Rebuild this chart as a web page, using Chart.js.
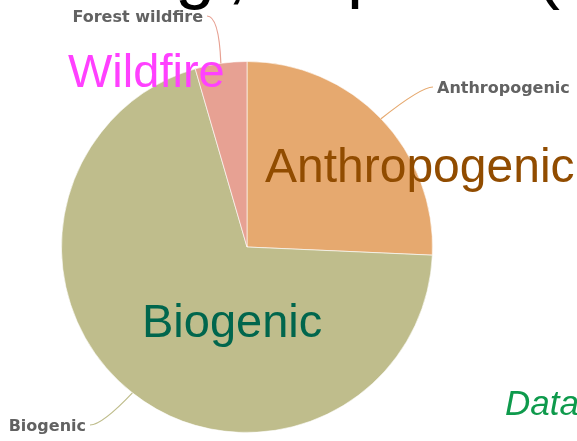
<!DOCTYPE html>
<html>
<head>
<meta charset="utf-8">
<script src="https://cdn.jsdelivr.net/npm/chart.js@4/dist/chart.umd.min.js"></script>
<style>
  html, body { margin: 0; padding: 0; background: #fff; }
  #wrap { width: 577px; height: 441px; position: relative; overflow: hidden; }
</style>
</head>
<body>
<div id="wrap"><canvas id="pie" width="577" height="441"></canvas></div>
<script>
// slice data, clockwise from 12 o'clock
const sources = ['Anthropogenic', 'Biogenic', 'Forest wildfire'];
const shares = [25.7, 69.8, 4.5];
const sliceColors = ['#E6A96F', '#BFBD8C', '#E7A193'];

// outside label placement (left/right edge of text, baseline)
const labelSpots = [
    { x: 437, y: 93, align: 'left' },
    { x: 86, y: 431, align: 'right' },
    { x: 203, y: 22, align: 'right' }
];

// big slide annotations laid over the chart
const overlays = [
    { text: 'Wildfire', x: 68, y: 87, font: '47px "Liberation Sans", Arial', color: '#FF40FF' },
    { text: 'Anthropogenic', x: 265, y: 182, font: '48px "Liberation Sans", Arial', color: '#914C00' },
    { text: 'Biogenic', x: 142, y: 337, font: '47px "Liberation Sans", Arial', color: '#00664D' },
    { text: 'Data', x: 505, y: 415, font: 'italic 35px "Liberation Sans", Arial', color: '#0E9A4C' },
    // cut-off slide title at the very top
    { text: 'g', x: 175, y: -5, font: '72px "Liberation Sans", Arial', color: '#000' },
    { text: ',', x: 227, y: -5, font: '72px "Liberation Sans", Arial', color: '#000' },
    { text: 'p', x: 347, y: -6, font: '72px "Liberation Sans", Arial', color: '#000' },
    { text: '(', x: 536, y: -5, font: '72px "Liberation Sans", Arial', color: '#000' }
];

const sideLabels = {
    id: 'sideLabels',
    afterDatasetsDraw(chart) {
        const ctx = chart.ctx;
        const arcs = chart.getDatasetMeta(0).data;
        ctx.save();
        arcs.forEach((arc, i) => {
            const p = arc.getProps(['x', 'y', 'startAngle', 'endAngle', 'outerRadius'], true);
            const mid = (p.startAngle + p.endAngle) / 2;
            const ax = p.x + Math.cos(mid) * p.outerRadius;
            const ay = p.y + Math.sin(mid) * p.outerRadius;
            const spot = labelSpots[i];
            const sx = spot.align === 'left' ? spot.x - 4 : spot.x + 4;
            const sy = spot.y - 6;
            const side = ax > sx ? 1 : -1;

            ctx.strokeStyle = sliceColors[i];
            ctx.lineWidth = 1.2;
            ctx.beginPath();
            ctx.moveTo(sx, sy);
            ctx.quadraticCurveTo(sx + side * 12, sy, ax, ay);
            ctx.stroke();

            ctx.fillStyle = '#626262';
            ctx.font = 'bold 16px "DejaVu Sans"';
            ctx.textAlign = spot.align;
            ctx.textBaseline = 'alphabetic';
            ctx.fillText(sources[i], spot.x, spot.y);
        });
        ctx.restore();
    },
    afterDraw(chart) {
        const ctx = chart.ctx;
        ctx.save();
        ctx.textAlign = 'left';
        ctx.textBaseline = 'alphabetic';
        overlays.forEach(o => {
            ctx.font = o.font;
            ctx.fillStyle = o.color;
            ctx.fillText(o.text, o.x, o.y);
        });
        ctx.restore();
    }
};

new Chart(document.getElementById('pie'), {
    type: 'pie',
    data: {
        labels: sources,
        datasets: [{
            data: shares,
            backgroundColor: sliceColors,
            borderColor: 'rgba(255,255,255,0.6)',
            borderWidth: 1,
            hoverOffset: 0
        }]
    },
    options: {
        responsive: false,
        animation: false,
        layout: { padding: { left: 61, right: 144, top: 61, bottom: 8 } },
        plugins: {
            legend: { display: false },
            tooltip: { enabled: false },
            title: { display: false }
        }
    },
    plugins: [sideLabels]
});
</script>
</body>
</html>
